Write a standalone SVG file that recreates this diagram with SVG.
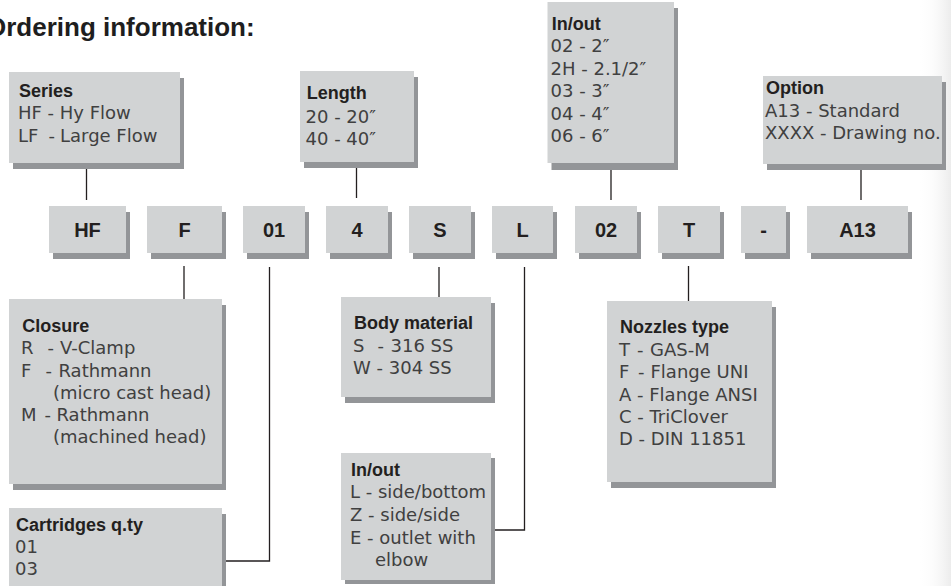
<svg xmlns="http://www.w3.org/2000/svg" width="951" height="586" viewBox="0 0 951 586">
<defs>
<linearGradient id="pg" x1="0" y1="0" x2="1" y2="0">
<stop offset="0" stop-color="#ffffff" stop-opacity="0"/>
<stop offset="1" stop-color="#ececec"/>
</linearGradient>
</defs>
<style>
.box{fill:#d1d3d4}
.shd{fill:#939598}
.h{font-family:"Liberation Sans",Arial,sans-serif;font-weight:bold;font-size:26px;fill:#1e1e1e}
.t{font-family:"Liberation Sans",Arial,sans-serif;font-weight:bold;font-size:18px;fill:#231f20}
.b{font-family:"DejaVu Sans","Liberation Sans",sans-serif;font-size:18px;fill:#404040}
.c{font-family:"Liberation Sans",Arial,sans-serif;font-weight:bold;font-size:20px;fill:#231f20;text-anchor:middle}
.conn{stroke:#231f20;stroke-width:1.3;fill:none}
</style>
<rect x="0" y="0" width="951" height="586" fill="#ffffff"/>
<rect x="918" y="0" width="33" height="586" fill="url(#pg)"/>
<text class="h" x="-14" y="35.7">Ordering information:</text>

<g id="connectors">
<path class="conn" d="M86.5 163V200"/>
<path class="conn" d="M356.5 162V198"/>
<path class="conn" d="M611 163V200"/>
<path class="conn" d="M861 164V200"/>
<path class="conn" d="M184 266V299"/>
<path class="conn" d="M226 561H269.5V267"/>
<path class="conn" d="M439 267V297"/>
<path class="conn" d="M495 530H524.5V267"/>
<path class="conn" d="M688.5 266V301"/>
</g>

<g id="code-HF"><rect class="shd" x="53" y="212" width="77" height="47"/><rect class="box" x="49" y="206" width="77" height="47"/><text class="c" x="87.5" y="236.5">HF</text></g>
<g id="code-F"><rect class="shd" x="151" y="212" width="75" height="47"/><rect class="box" x="147" y="206" width="75" height="47"/><text class="c" x="184.5" y="236.5">F</text></g>
<g id="code-01"><rect class="shd" x="247" y="212" width="62" height="47"/><rect class="box" x="243" y="206" width="62" height="47"/><text class="c" x="274" y="236.5">01</text></g>
<g id="code-4"><rect class="shd" x="330" y="212" width="62" height="47"/><rect class="box" x="326" y="206" width="62" height="47"/><text class="c" x="357" y="236.5">4</text></g>
<g id="code-S"><rect class="shd" x="413" y="212" width="62" height="47"/><rect class="box" x="409" y="206" width="62" height="47"/><text class="c" x="440" y="236.5">S</text></g>
<g id="code-L"><rect class="shd" x="496" y="212" width="61" height="47"/><rect class="box" x="492" y="206" width="61" height="47"/><text class="c" x="522.5" y="236.5">L</text></g>
<g id="code-02"><rect class="shd" x="579" y="212" width="62" height="47"/><rect class="box" x="575" y="206" width="62" height="47"/><text class="c" x="606" y="236.5">02</text></g>
<g id="code-T"><rect class="shd" x="662" y="212" width="62" height="47"/><rect class="box" x="658" y="206" width="62" height="47"/><text class="c" x="689" y="236.5">T</text></g>
<g id="code-dash"><rect class="shd" x="745" y="212" width="45" height="47"/><rect class="box" x="741" y="206" width="45" height="47"/><text class="c" x="763.5" y="236.5">-</text></g>
<g id="code-A13"><rect class="shd" x="811" y="212" width="101" height="47"/><rect class="box" x="807" y="206" width="101" height="47"/><text class="c" x="857.5" y="236.5">A13</text></g>

<g id="series">
<rect class="shd" x="13" y="78" width="171" height="91"/><rect class="box" x="9" y="72" width="171" height="91"/>
<text class="t" x="19" y="96.7">Series</text>
<text class="b" x="18" y="119.3">HF - Hy Flow</text>
<text class="b" y="141.7"><tspan x="18">LF</tspan><tspan x="48.5">-</tspan><tspan x="60">Large Flow</tspan></text>
</g>

<g id="length">
<rect class="shd" x="304" y="77" width="114" height="91"/><rect class="box" x="300" y="71" width="114" height="91"/>
<text class="t" x="306.7" y="99.3">Length</text>
<text class="b" x="305.5" y="123.3">20 - 20″</text>
<text class="b" x="305.5" y="145">40 - 40″</text>
</g>

<g id="inout-size">
<rect class="shd" x="551.5" y="8" width="126.5" height="162"/><rect class="box" x="547.5" y="2" width="126.5" height="161"/>
<text class="t" x="551.7" y="30">In/out</text>
<text class="b" x="550.5" y="52.4">02 - 2″</text>
<text class="b" x="550.5" y="74.8">2H - 2.1/2″</text>
<text class="b" x="550.5" y="97.2">03 - 3″</text>
<text class="b" x="550.5" y="119.6">04 - 4″</text>
<text class="b" x="550.5" y="142">06 - 6″</text>
</g>

<g id="option">
<rect class="shd" x="767" y="82" width="179" height="88"/><rect class="box" x="763" y="76" width="179" height="88"/>
<text class="t" x="766" y="94.3">Option</text>
<text class="b" x="765" y="116.7">A13 - Standard</text>
<text class="b" x="765" y="139.3">XXXX - Drawing no.</text>
</g>

<g id="closure">
<rect class="shd" x="13" y="305" width="213" height="185"/><rect class="box" x="9" y="299" width="213" height="185"/>
<text class="t" x="22.3" y="332.3">Closure</text>
<text class="b" y="354.3"><tspan x="21">R</tspan><tspan x="47.5">-</tspan><tspan x="60">V-Clamp</tspan></text>
<text class="b" y="376.5"><tspan x="21">F</tspan><tspan x="45.5">-</tspan><tspan x="58.5">Rathmann</tspan></text>
<text class="b" x="53" y="398.7">(micro cast head)</text>
<text class="b" y="421"><tspan x="21">M</tspan><tspan x="44.5">-</tspan><tspan x="56.5">Rathmann</tspan></text>
<text class="b" x="53" y="443.3">(machined head)</text>
</g>

<g id="cartridges">
<rect class="shd" x="13" y="514" width="213" height="90"/><rect class="box" x="9" y="508" width="213" height="90"/>
<text class="t" x="16" y="530.7">Cartridges q.ty</text>
<text class="b" x="15" y="553.3">01</text>
<text class="b" x="15" y="575">03</text>
</g>

<g id="body-material">
<rect class="shd" x="345" y="303" width="150" height="100"/><rect class="box" x="341" y="297" width="150" height="100"/>
<text class="t" x="354" y="329">Body material</text>
<text class="b" y="351.7"><tspan x="353">S</tspan><tspan x="377.5">-</tspan><tspan x="390.5">316 SS</tspan></text>
<text class="b" x="353" y="374">W - 304 SS</text>
</g>

<g id="inout-type">
<rect class="shd" x="345" y="458" width="150" height="126"/><rect class="box" x="341" y="453" width="150" height="127"/>
<text class="t" x="351" y="476">In/out</text>
<text class="b" x="350" y="498.3">L - side/bottom</text>
<text class="b" x="350" y="520.7">Z - side/side</text>
<text class="b" x="350" y="543.5">E - outlet with</text>
<text class="b" x="375" y="566">elbow</text>
</g>

<g id="nozzles">
<rect class="shd" x="611" y="307" width="165" height="181"/><rect class="box" x="607" y="301" width="165" height="181"/>
<text class="t" x="620" y="332.7">Nozzles type</text>
<text class="b" y="355.7"><tspan x="619">T</tspan><tspan x="637">-</tspan><tspan x="650">GAS-M</tspan></text>
<text class="b" y="378.3"><tspan x="619">F</tspan><tspan x="638">-</tspan><tspan x="650.5">Flange UNI</tspan></text>
<text class="b" x="619" y="400.5">A - Flange ANSI</text>
<text class="b" x="619" y="422.7">C - TriClover</text>
<text class="b" x="619" y="445">D - DIN 11851</text>
</g>
</svg>
